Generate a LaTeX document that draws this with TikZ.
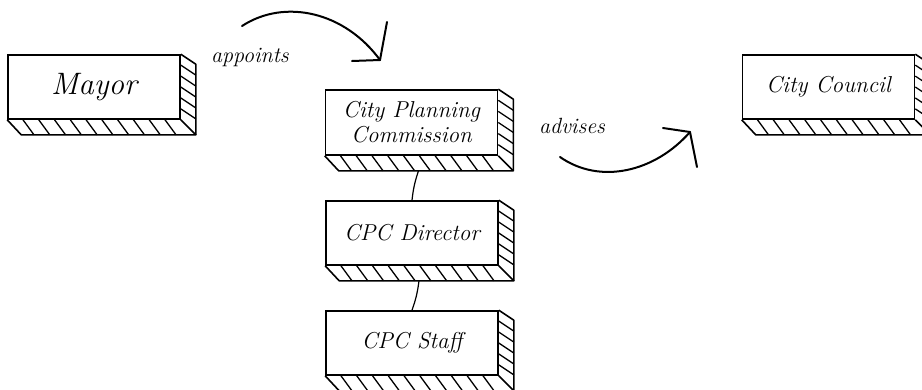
\documentclass[tikz,border=0pt]{standalone}
\usepackage{tikz}
\usetikzlibrary{arrows.meta,positioning,calc}

\begin{document}
\begin{tikzpicture}[
    x=1pt, y=-1pt,
    block/.style={draw, line width=1.6pt, minimum width=172pt, minimum height=64pt, align=center, inner sep=2pt,
                  font=\fontsize{23}{25}\selectfont\itshape},
    side/.style={line width=1.6pt, line join=round},
    hatch/.style={line width=1.3pt},
    link/.style={line width=1.2pt},
    arrow/.style={line width=2pt, line cap=round},
    label/.style={font=\fontsize{22}{24}\selectfont\itshape}
]
\useasboundingbox (0,0) rectangle (922,389);

% ---- Blocks ----
\node[block, font=\fontsize{31}{33}\selectfont\itshape] (mayor) at (94, 87) {Mayor};
\node[block, minimum height=65pt] (cpc) at (411.5, 122.5) {City Planning\\Commission};
\node[block] (director) at (412, 233) {CPC Director};
\node[block] (staff) at (412, 343) {CPC Staff};
\node[block] (council) at (828.5, 87) {City Council};

% ---- 3D sides and hatching ----
\foreach \n in {mayor, cpc, director, staff, council} {
    \draw[side] (\n.south west) -- ++(14,15) -- ($(\n.south east)+(15,15)$) -- (\n.south east);
    \draw[side] (\n.north east) -- ++(15,10) -- ($(\n.south east)+(15,15)$);
    \foreach \k in {1,...,10}
        \draw[hatch] ($(\n.south west)!\k/11!(\n.south east)$) -- ++(11,15);
    \foreach \k in {1,...,5}
        \draw[hatch] ($(\n.north east)!\k/6!(\n.south east)$) -- ++(15,10);
    \coordinate (\n-base) at ($(\n.south)+(7,15)$);
}

% ---- Reporting lines ----
\draw[link] (cpc-base) to[bend right=6] (director.north);
\draw[link] (director-base) to[bend left=6] (staff.north);

% ---- Appoints arrow ----
\coordinate (appoints-start) at (242, 26);
\coordinate (appoints-tip) at (380, 60);
\draw[arrow] (appoints-start) .. controls (285,-2) and (345,12) .. (appoints-tip);
\draw[arrow] (appoints-tip) -- ++(7,-38);
\draw[arrow] (appoints-tip) -- ++(-28,1);
\node[label] (appoints) at (250, 57) {appoints};

% ---- Advises arrow ----
\coordinate (advises-start) at (560, 157);
\coordinate (advises-tip) at (690, 132);
\draw[arrow] (advises-start) .. controls (600,185) and (655,172) .. (advises-tip);
\draw[arrow] (advises-tip) -- ++(-27,-4);
\draw[arrow] (advises-tip) -- ++(7,35);
\node[label] (advises) at (572, 126) {advises};

\end{tikzpicture}
\end{document}
